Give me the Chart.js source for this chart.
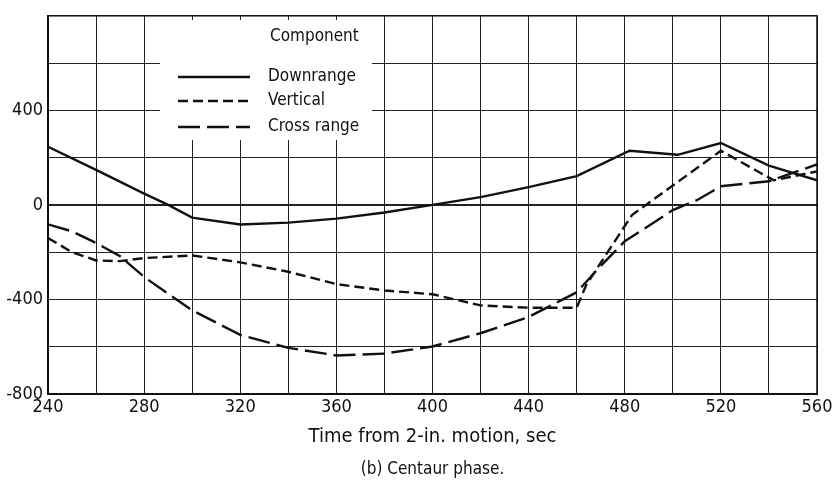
<!DOCTYPE html>
<html>
<head>
<meta charset="utf-8">
<script src="https://cdn.jsdelivr.net/npm/chart.js@4.4.1/dist/chart.umd.min.js"></script>
<style>
  html, body { margin: 0; padding: 0; background: #ffffff; }
  #wrap { width: 840px; height: 489px; position: relative; }
</style>
</head>
<body>
<div id="wrap"><canvas id="c" width="840" height="489"></canvas></div>
<script>
// ---- data ----
const xTicks = [240, 280, 320, 360, 400, 440, 480, 520, 560];
const yTicks = [400, 0, -400, -800];

const downrangeX = [240, 260, 280, 290, 300, 320, 340, 360, 380, 400, 420, 440, 460, 482, 502, 520, 540, 560];
const downrangeY = [246, 148, 48, 0, -54, -83, -75, -58, -32, 0, 33, 75, 122, 229, 212, 262, 166, 104];

const verticalX = [240, 250, 260, 270, 280, 300, 320, 340, 360, 380, 400, 420, 440, 460, 464, 483, 500, 520, 542, 560];
const verticalY = [-140, -200, -235, -238, -225, -214, -243, -283, -335, -362, -378, -425, -435, -435, -338, -43, 82, 229, 104, 142];

const crossX = [240, 250, 260, 270, 280, 300, 320, 340, 360, 380, 400, 420, 440, 460, 470, 480, 500, 510, 520, 540, 560];
const crossY = [-82, -112, -161, -217, -305, -446, -550, -605, -637, -629, -599, -543, -474, -370, -258, -154, -22, 20, 79, 100, 171];

const seriesNames = ['Downrange', 'Vertical', 'Cross range'];
const legendTitle = 'Component';
const xTitle = 'Time from 2-in. motion, sec';
const caption = '(b) Centaur phase.';

const FONT = "'Liberation Sans Narrow', 'DejaVu Sans Condensed', 'Roboto Condensed', sans-serif";
const INK = '#111111';
const dashes = [[], [10, 5], [22, 7]];

function pts(xs, ys) { return xs.map((x, i) => ({ x: x, y: ys[i] })); }

const datasets = [
  { label: seriesNames[0], data: pts(downrangeX, downrangeY) },
  { label: seriesNames[1], data: pts(verticalX, verticalY) },
  { label: seriesNames[2], data: pts(crossX, crossY) }
].map((d, i) => Object.assign(d, {
  showLine: true, borderColor: INK, borderWidth: 2.4, pointRadius: 0,
  borderDash: dashes[i], tension: 0, fill: false
}));

const overlay = {
  id: 'overlay',
  beforeDatasetsDraw(chart) {
    const ctx = chart.ctx;
    ctx.save();
    ctx.fillStyle = '#ffffff';
    ctx.fillRect(160, 20, 212, 120);
    ctx.restore();
  },
  afterDraw(chart) {
    const ctx = chart.ctx;
    const a = chart.chartArea;
    ctx.save();
    ctx.fillStyle = INK;
    ctx.strokeStyle = INK;
    // legend
    ctx.font = '17px ' + FONT;
    ctx.textBaseline = 'middle';
    ctx.textAlign = 'left';
    ctx.fillText(legendTitle, 270, 37);
    const rows = [77, 101, 127];
    chart.data.datasets.forEach((ds, i) => {
      ctx.lineWidth = 2.4;
      ctx.setLineDash(ds.borderDash);
      ctx.beginPath();
      ctx.moveTo(178, rows[i]);
      ctx.lineTo(250, rows[i]);
      ctx.stroke();
      ctx.setLineDash([]);
      ctx.fillText(ds.label, 268, rows[i]);
    });
    // axis title and caption
    ctx.textAlign = 'center';
    const cx = (a.left + a.right) / 2;
    ctx.font = '20px ' + FONT;
    ctx.fillText(xTitle, cx, 437);
    ctx.font = '17px ' + FONT;
    ctx.fillText(caption, cx, 470);
    ctx.restore();
  }
};

new Chart(document.getElementById('c'), {
  type: 'scatter',
  data: { datasets: datasets },
  options: {
    responsive: false,
    animation: false,
    layout: { padding: { top: 12, right: 23, left: 0, bottom: 0 } },
    plugins: { legend: { display: false }, tooltip: { enabled: false } },
    scales: {
      x: {
        type: 'linear', min: 240, max: 560,
        afterFit(s) { s.height = 95; },
        ticks: {
          stepSize: 20, autoSkip: false, maxRotation: 0, padding: 3,
          color: INK, font: { family: FONT, size: 18 },
          callback: v => xTicks.includes(v) ? String(v) : ''
        },
        grid: { color: '#222222', lineWidth: 1, drawTicks: false },
        border: { color: INK, width: 2 }
      },
      y: {
        type: 'linear', min: -800, max: 800,
        afterFit(s) { s.width = 48; },
        ticks: {
          stepSize: 200, autoSkip: false, padding: 5,
          color: INK, font: { family: FONT, size: 18 },
          callback: v => yTicks.includes(v) ? String(v) : ''
        },
        grid: {
          color: '#222222', drawTicks: false,
          lineWidth: c => (c.tick && c.tick.value === 0) ? 2 : 1
        },
        border: { color: INK, width: 2 }
      }
    }
  },
  plugins: [overlay, {
    id: 'frame',
    afterDatasetsDraw(chart) {
      const a = chart.chartArea, ctx = chart.ctx;
      ctx.save();
      ctx.strokeStyle = INK; ctx.lineWidth = 1.5;
      ctx.strokeRect(a.left, a.top, a.right - a.left, a.bottom - a.top);
      ctx.restore();
    }
  }]
});
</script>
</body>
</html>
